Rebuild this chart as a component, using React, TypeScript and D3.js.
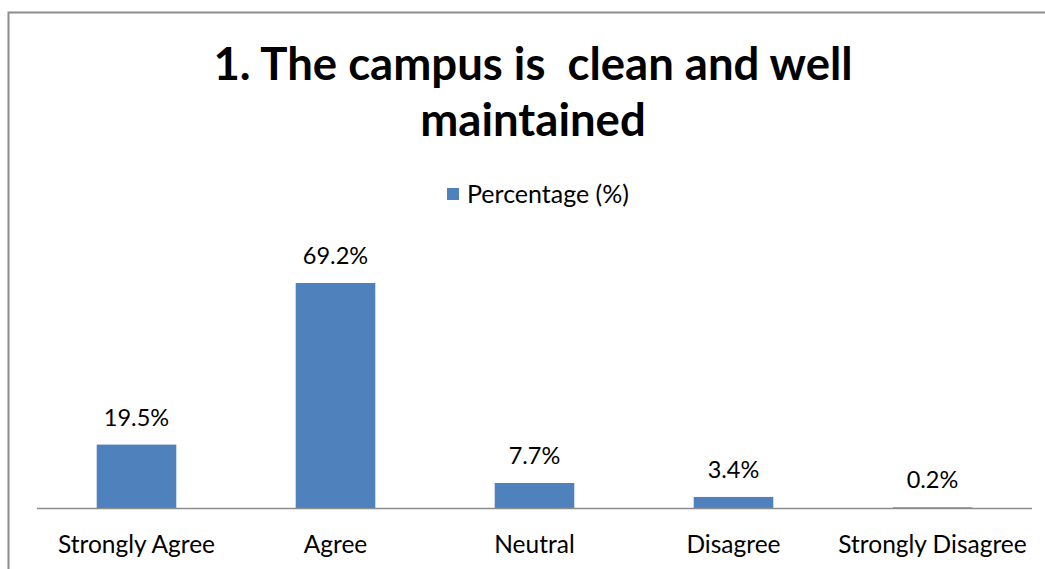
import React from "react";
import * as d3 from "d3";

const categories = ["Strongly Agree", "Agree", "Neutral", "Disagree", "Strongly Disagree"];
const values = [19.5, 69.2, 7.7, 3.4, 0.2];
const valueLabels = ["19.5%", "69.2%", "7.7%", "3.4%", "0.2%"];
const seriesName = "Percentage (%)";
const titleLines = ["1. The campus is  clean and well", "maintained"];

const W = 1045;
const H = 569;
const FONT = "Lato, 'Liberation Sans', sans-serif";

export default function App() {
  const plotLeft = 37;
  const plotRight = 1032;
  const baseY = 508;
  const x = d3.scaleBand<string>().domain(categories).range([plotLeft, plotRight]).paddingInner(0.6).paddingOuter(0.3);
  const y = d3.scaleLinear().domain([0, 69.2]).range([baseY, 283]);
  const bw = x.bandwidth();

  return (
    <svg width={W} height={H} style={{ position: "absolute", left: 0, top: 0, background: "#fff" }} fontFamily={FONT}>
      <rect x={8.5} y={12.5} width={W + 20} height={H + 20} fill="#fff" stroke="#8c8c8c" strokeWidth={2} />
      <text x={533} y={80} textAnchor="middle" fontSize={45.5} fontWeight="bold" fill="#000" style={{ whiteSpace: "pre" }}>
        {titleLines[0]}
      </text>
      <text x={533} y={136} textAnchor="middle" fontSize={45.5} fontWeight="bold" fill="#000">
        {titleLines[1]}
      </text>
      <rect x={447} y={188} width={12} height={12} fill="#4F81BD" />
      <text x={467} y={203} fontSize={25} fill="#000">{seriesName}</text>
      {categories.map((c, i) => (
        <g key={c}>
          <rect x={x(c)!} y={y(values[i])} width={bw} height={baseY - y(values[i])} fill="#4F81BD" />
          <text x={x(c)! + bw / 2} y={y(values[i]) - 19} textAnchor="middle" fontSize={23.5} fill="#000">
            {valueLabels[i]}
          </text>
          <text x={x(c)! + bw / 2} y={553} textAnchor="middle" fontSize={24.5} fill="#000">
            {c}
          </text>
        </g>
      ))}
      <line x1={plotLeft} x2={plotRight} y1={baseY + 0.5} y2={baseY + 0.5} stroke="#8c8c8c" strokeWidth={1.5} />
    </svg>
  );
}
